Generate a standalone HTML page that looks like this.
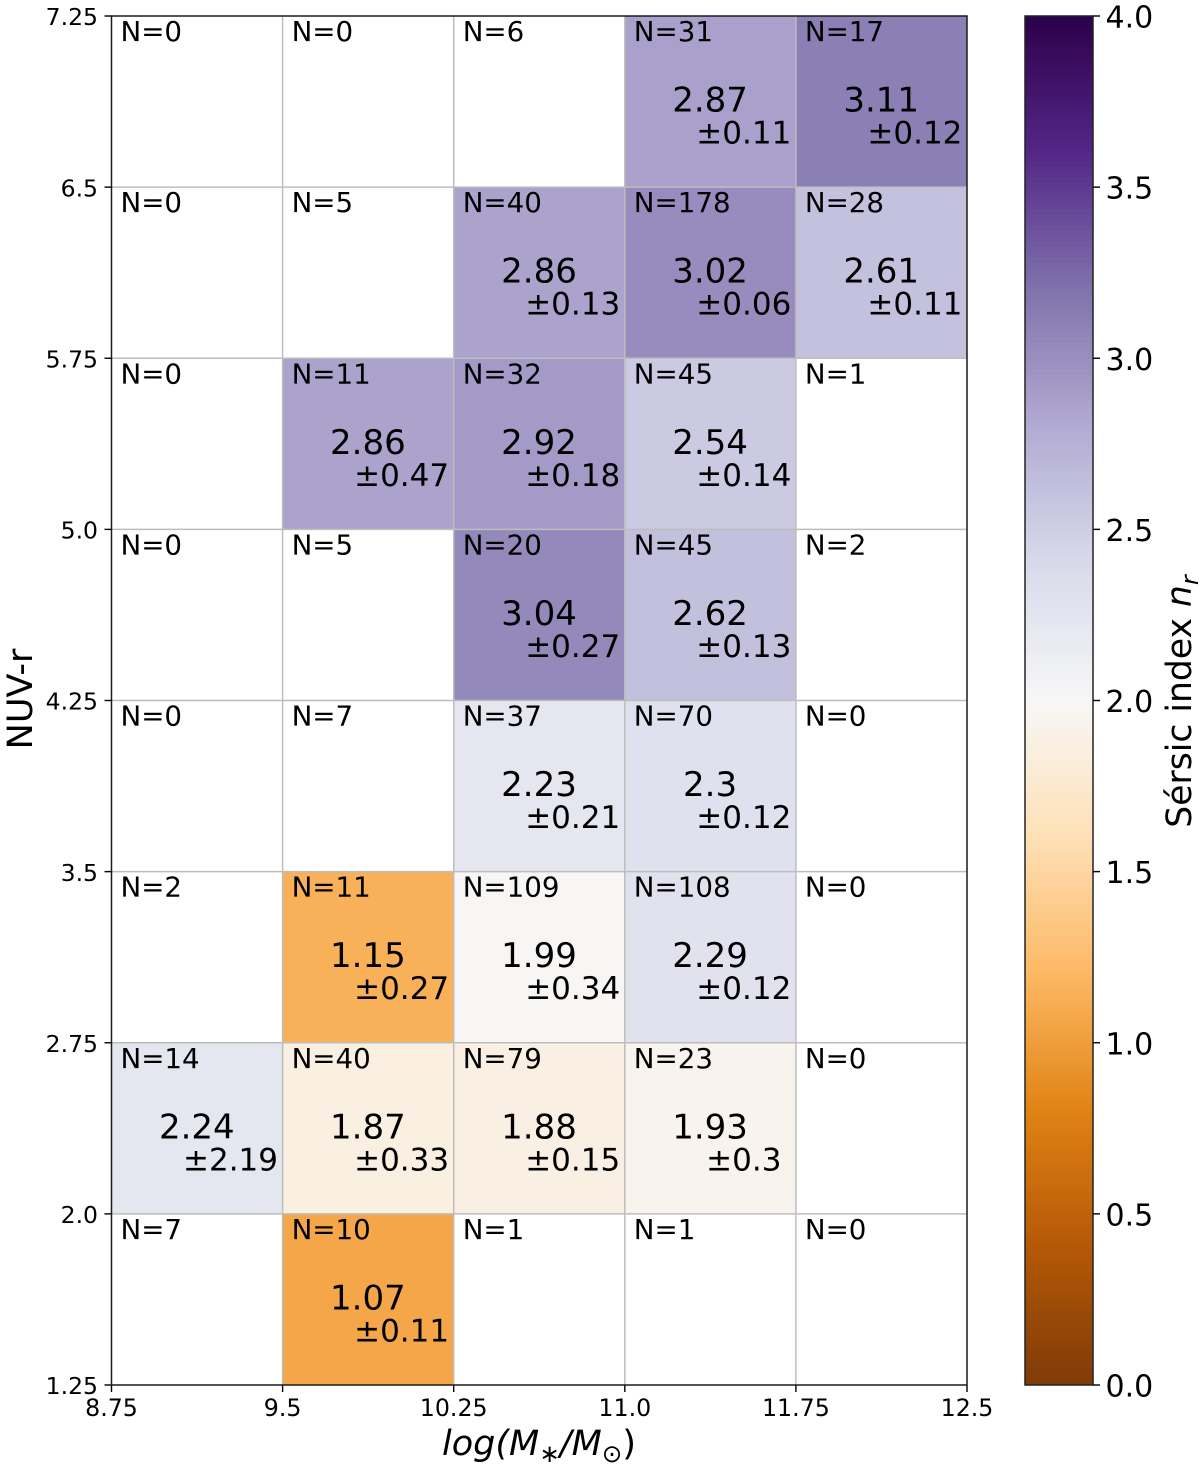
<!DOCTYPE html>
<html>
<head>
<meta charset="utf-8">
<title>Sersic index heatmap</title>
<style>
html,body{margin:0;padding:0;background:#fff;}
svg{display:block;font-family:"DejaVu Sans","Liberation Sans",sans-serif;}
</style>
</head>
<body>
<svg id="chart" xmlns="http://www.w3.org/2000/svg" width="1200" height="1468" viewBox="0 0 1200 1468">
  <rect x="0" y="0" width="1200" height="1468" fill="#fff"/>
  <g id="cells"></g>
  <g id="grid"></g>
  <g id="labels"></g>
  <g id="axes"></g>
  <g id="colorbar"></g>
  <text x="539" y="1455" text-anchor="middle" font-size="35" font-style="italic">log(M<tspan dy="7" font-size="24.5">∗</tspan><tspan dy="-7">/M</tspan><tspan dy="7" font-size="24.5" font-style="normal">⊙</tspan><tspan dy="-7" font-style="normal">)</tspan></text>
  <text transform="translate(32,699) rotate(-90)" text-anchor="middle" font-size="35">NUV-r</text>
  <text transform="translate(1191,701.5) rotate(-90)" text-anchor="middle" font-size="34.6">Sérsic index <tspan font-style="italic">n</tspan><tspan dy="7" font-size="24" font-style="italic">r</tspan></text>
</svg>
<script>
// Chart data (rows listed top to bottom, columns left to right)
const xTicks = [8.75, 9.5, 10.25, 11.0, 11.75, 12.5];
const xTickLabels = ["8.75", "9.5", "10.25", "11.0", "11.75", "12.5"];
const yTicks = [1.25, 2.0, 2.75, 3.5, 4.25, 5.0, 5.75, 6.5, 7.25];
const yTickLabels = ["1.25", "2.0", "2.75", "3.5", "4.25", "5.0", "5.75", "6.5", "7.25"];
const colorTicks = [0, 0.5, 1, 1.5, 2, 2.5, 3, 3.5, 4];
const colorTickLabels = ["0.0", "0.5", "1.0", "1.5", "2.0", "2.5", "3.0", "3.5", "4.0"];
const counts = [
  [0, 0, 6, 31, 17],
  [0, 5, 40, 178, 28],
  [0, 11, 32, 45, 1],
  [0, 5, 20, 45, 2],
  [0, 7, 37, 70, 0],
  [2, 11, 109, 108, 0],
  [14, 40, 79, 23, 0],
  [7, 10, 1, 1, 0]
];
const means = [
  [null, null, null, 2.87, 3.11],
  [null, null, 2.86, 3.02, 2.61],
  [null, 2.86, 2.92, 2.54, null],
  [null, null, 3.04, 2.62, null],
  [null, null, 2.23, 2.3, null],
  [null, 1.15, 1.99, 2.29, null],
  [2.24, 1.87, 1.88, 1.93, null],
  [null, 1.07, null, null, null]
];
const errors = [
  [null, null, null, 0.11, 0.12],
  [null, null, 0.13, 0.06, 0.11],
  [null, 0.47, 0.18, 0.14, null],
  [null, null, 0.27, 0.13, null],
  [null, null, 0.21, 0.12, null],
  [null, 0.27, 0.34, 0.12, null],
  [2.19, 0.33, 0.15, 0.3, null],
  [null, 0.11, null, null, null]
];
const colormapStops = [
  [127,59,8],[179,88,6],[224,130,20],[253,184,99],[254,224,182],[247,247,247],
  [216,218,235],[178,171,210],[128,115,172],[84,39,136],[45,0,75]
];
const colorMin = 0;
const colorMax = 4;

const NS = "http://www.w3.org/2000/svg";
const plot = {left: 111.5, right: 967, top: 16, bottom: 1385};
const cbar = {left: 1025, right: 1093, top: 16, bottom: 1385};

function xScale(v) {
  return plot.left + (v - xTicks[0]) / (xTicks[xTicks.length - 1] - xTicks[0]) * (plot.right - plot.left);
}
function yScale(v) {
  return plot.bottom - (v - yTicks[0]) / (yTicks[yTicks.length - 1] - yTicks[0]) * (plot.bottom - plot.top);
}
function cScale(v) {
  return cbar.bottom - (v - colorMin) / (colorMax - colorMin) * (cbar.bottom - cbar.top);
}
function colorFor(v) {
  let t = (v - colorMin) / (colorMax - colorMin);
  t = Math.max(0, Math.min(1, t)) * (colormapStops.length - 1);
  const i = Math.min(Math.floor(t), colormapStops.length - 2);
  const f = t - i;
  const a = colormapStops[i];
  const b = colormapStops[i + 1];
  return "rgb(" + [0, 1, 2].map(function (k) { return Math.round(a[k] + (b[k] - a[k]) * f); }).join(",") + ")";
}
function make(parent, tag, attrs, content) {
  const el = document.createElementNS(NS, tag);
  Object.keys(attrs).forEach(function (k) { el.setAttribute(k, attrs[k]); });
  if (content !== undefined) el.textContent = content;
  parent.appendChild(el);
  return el;
}

const cellsG = document.getElementById("cells");
const gridG = document.getElementById("grid");
const labelsG = document.getElementById("labels");
const axesG = document.getElementById("axes");
const cbarG = document.getElementById("colorbar");
const nRows = counts.length;

counts.forEach(function (row, r) {
  row.forEach(function (count, c) {
    const x0 = xScale(xTicks[c]);
    const x1 = xScale(xTicks[c + 1]);
    const yHigh = yTicks[nRows - r];
    const yLow = yTicks[nRows - r - 1];
    const y0 = yScale(yHigh);
    const y1 = yScale(yLow);
    const mean = means[r][c];
    const err = errors[r][c];
    if (mean !== null) {
      const cell = make(cellsG, "rect", {x: x0, y: y0, width: x1 - x0, height: y1 - y0, fill: colorFor(mean)});
      
      
      const mt = make(labelsG, "text", {x: x0 + 85.3, y: y0 + 95.6, "text-anchor": "middle", "font-size": 34}, String(mean));
      
      
      const et = make(labelsG, "text", {x: x0 + 119, y: y0 + 127.5, "text-anchor": "middle", "font-size": 31}, "±" + String(err));
      
      
    }
    const nt = make(labelsG, "text", {x: x0 + 9, y: y0 + 25, "font-size": 27.7}, "N=" + count);
    
    
  });
});

xTicks.forEach(function (v, i) {
  const px = xScale(v);
  if (i > 0 && i < xTicks.length - 1) {
    const gl = make(gridG, "line", {x1: px, x2: px, y1: plot.top, y2: plot.bottom, stroke: "#bdbdbd", "stroke-width": 1.5});
    
    
  }
  const tk = make(axesG, "line", {x1: px, x2: px, y1: plot.bottom, y2: plot.bottom + 7, stroke: "#000", "stroke-width": 1.4});
  
  
  const lb = make(axesG, "text", {x: px, y: 1416, "text-anchor": "middle", "font-size": 23.7}, xTickLabels[i]);
  
  
});

yTicks.forEach(function (v, i) {
  const py = yScale(v);
  if (i > 0 && i < yTicks.length - 1) {
    const gl = make(gridG, "line", {x1: plot.left, x2: plot.right, y1: py, y2: py, stroke: "#bdbdbd", "stroke-width": 1.5});
    
    
  }
  const tk = make(axesG, "line", {x1: plot.left - 7, x2: plot.left, y1: py, y2: py, stroke: "#000", "stroke-width": 1.4});
  
  
  const lb = make(axesG, "text", {x: 98, y: py + 9.2, "text-anchor": "end", "font-size": 23.5}, yTickLabels[i]);
  
  
});

const frame = make(axesG, "rect", {x: plot.left, y: plot.top, width: plot.right - plot.left, height: plot.bottom - plot.top, fill: "none", stroke: "#1a1a1a", "stroke-width": 1.5});



const levels = 256;
for (let i = 0; i < levels; i++) {
  const lo = colorMin + (colorMax - colorMin) * i / levels;
  const hi = colorMin + (colorMax - colorMin) * (i + 1) / levels;
  const band = make(cbarG, "rect", {x: cbar.left, y: cScale(hi), width: cbar.right - cbar.left, height: cScale(lo) - cScale(hi) + 0.6, fill: colorFor((lo + hi) / 2), "shape-rendering": "crispEdges"});
  
  
}
const cbarFrame = make(cbarG, "rect", {x: cbar.left, y: cbar.top, width: cbar.right - cbar.left, height: cbar.bottom - cbar.top, fill: "none", stroke: "#222", "stroke-width": 1.5});


colorTicks.forEach(function (v, i) {
  const py = cScale(v);
  const tk = make(cbarG, "line", {x1: cbar.right, x2: cbar.right + 7, y1: py, y2: py, stroke: "#000", "stroke-width": 1.4});
  
  
  const lb = make(cbarG, "text", {x: 1105.5, y: py + 11.5, "font-size": 30}, colorTickLabels[i]);
  
  
});
</script>
</body>
</html>
